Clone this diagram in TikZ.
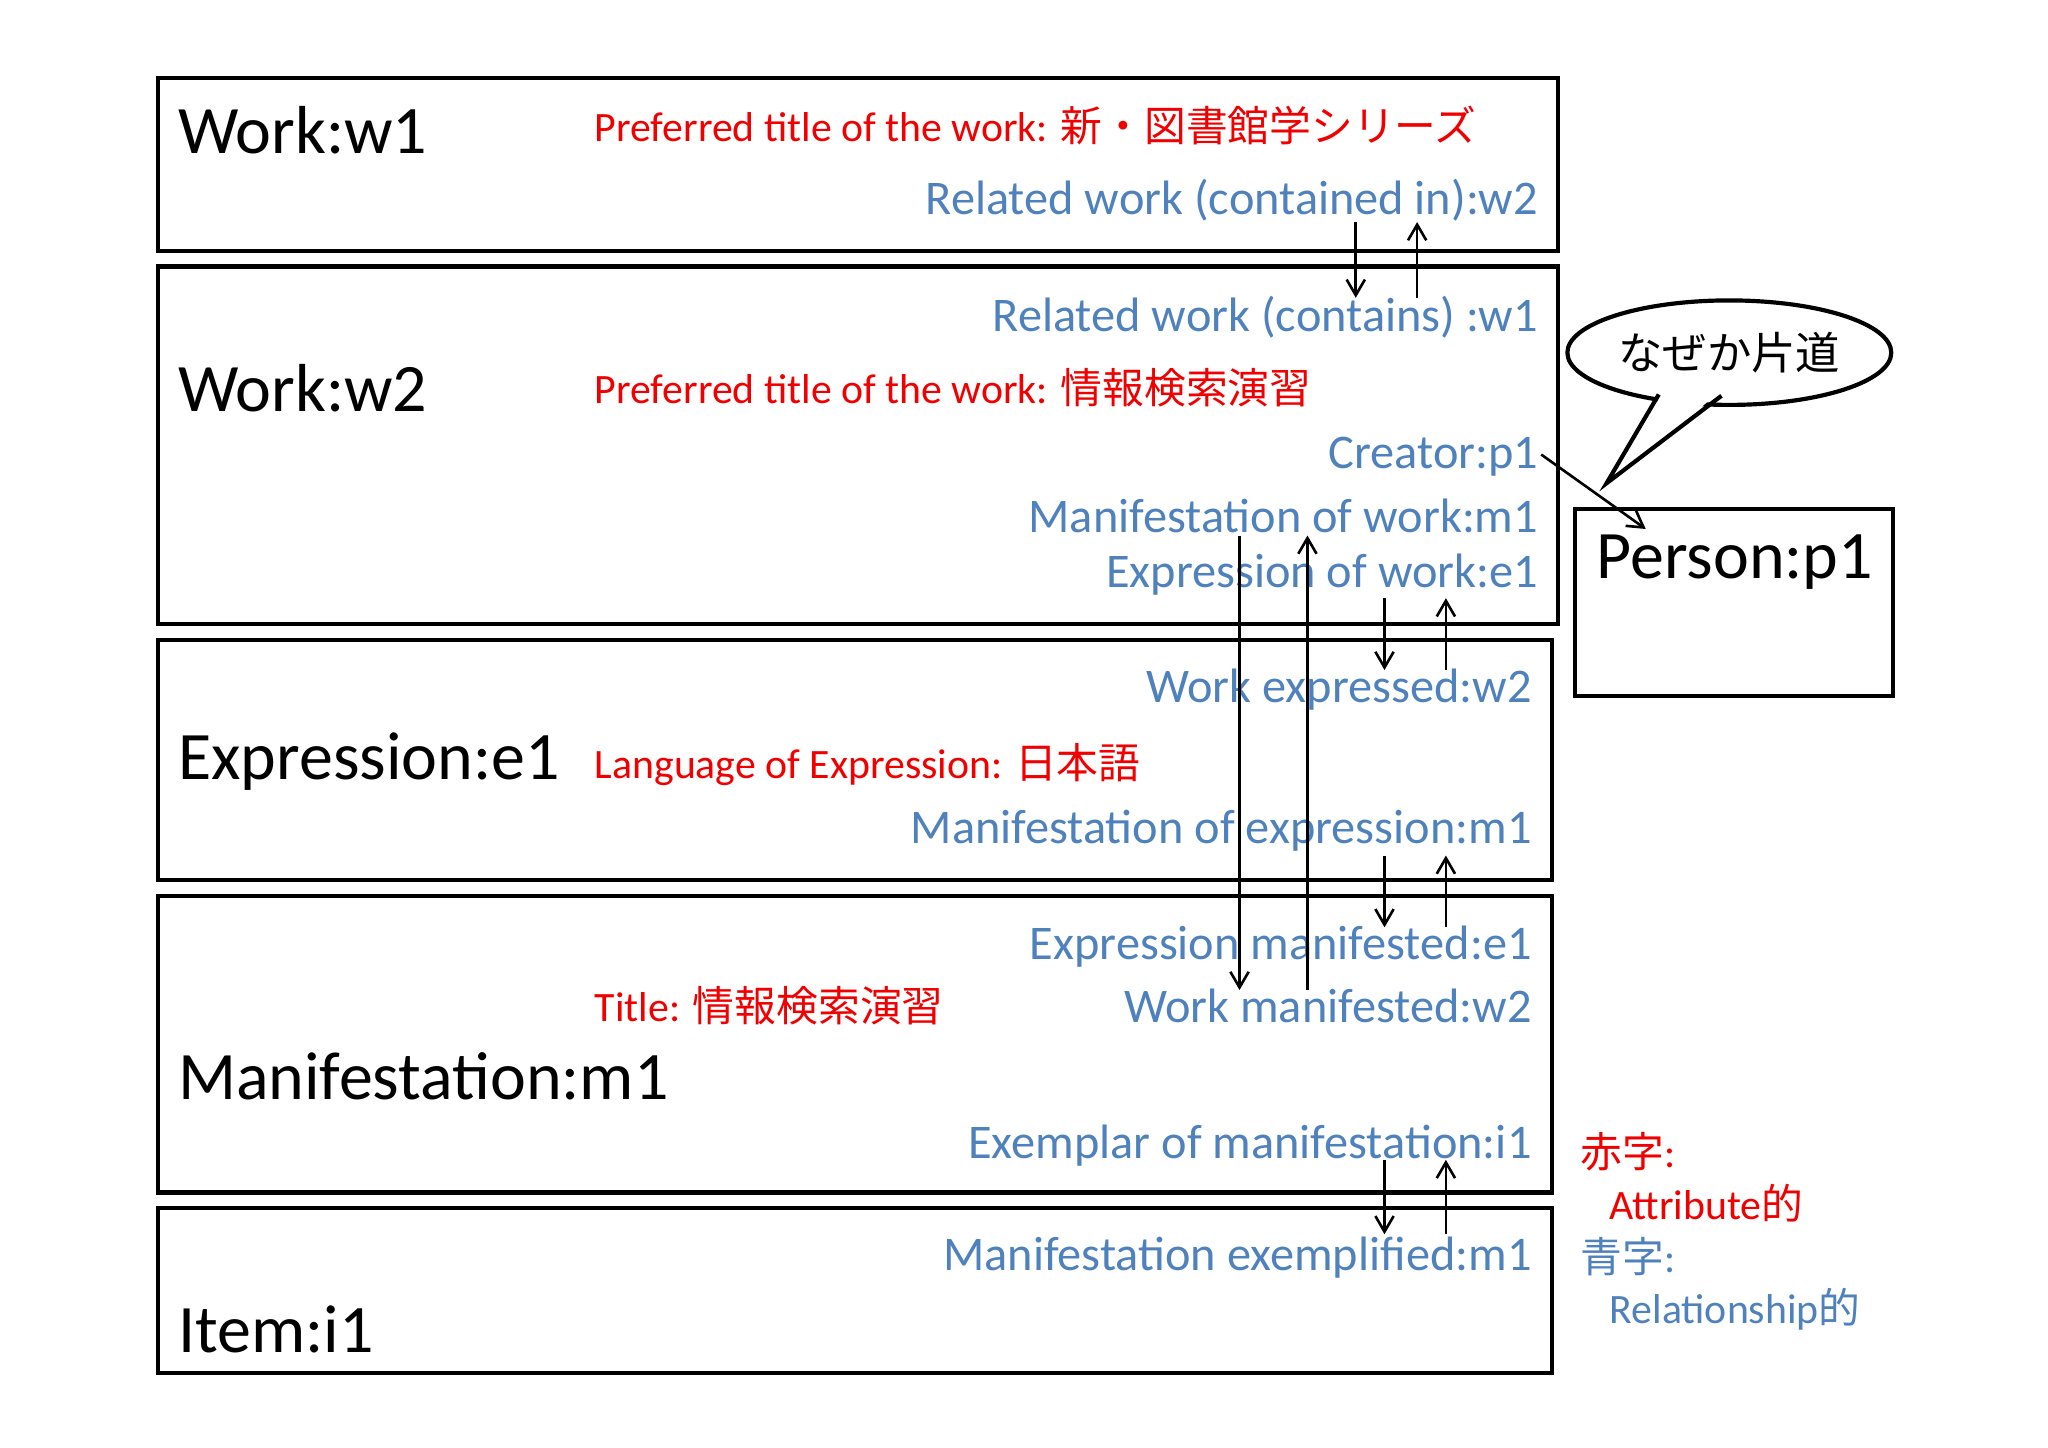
\documentclass[tikz,border=0pt]{standalone}
\usepackage{fontspec}
\setmainfont{Carlito}
\newfontfamily\cjk{Noto Sans CJK JP}
\usetikzlibrary{arrows.meta,shapes.geometric}
\definecolor{bl}{RGB}{79,129,189}
\definecolor{rd}{RGB}{240,0,0}
\begin{document}
\begin{tikzpicture}[x=0.5pt,y=-0.5pt,
  box/.style={draw,line width=1.6pt},
  big/.style={anchor=west,font=\fontsize{26}{29}\selectfont,inner sep=0},
  bt/.style={anchor=east,text=bl,font=\fontsize{18.5}{21}\selectfont,inner sep=0},
  rt/.style={anchor=west,text=rd,font=\fontsize{16}{19}\selectfont,inner sep=0},
  ar/.style={-{Straight Barb[length=6pt,width=7pt]},line width=1pt}]
\useasboundingbox (0,0) rectangle (1568,1108);
\draw[box] (121,60) rectangle (1193,192);
\draw[box] (121,204) rectangle (1193,478);
\draw[box] (121,490) rectangle (1188,674);
\draw[box] (121,686) rectangle (1188,913);
\draw[box] (121,925) rectangle (1188,1051);
\draw[box] (1206,390) rectangle (1449,533);
% callout
\node[ellipse,draw,line width=1.6pt,fill=white,minimum width=124pt,minimum height=40pt,inner sep=0,font=\cjk\fontsize{17}{20}\selectfont] (call) at (1324,270) {なぜか片道};
\fill[white] (1272,300) -- (1316,300) -- (1300,314) -- (1266,314) -- cycle;
\draw[line width=1.6pt] (1270,302) -- (1230,370) -- (1318,303);
% texts
\node[big] (tw1) at (136,100) {Work:w1};
\node[rt] at (455,96) {Preferred title of the work: {\cjk 新・図書館学シリーズ}};
\node[bt] at (1178,153) {Related work (contained in):w2};
\node[bt] at (1178,243) {Related work (contains) :w1};
\node[big] at (136,297) {Work:w2};
\node[rt] at (455,297) {Preferred title of the work: {\cjk 情報検索演習}};
\node[bt] (cr) at (1178,350) {Creator:p1};
\node[bt] at (1178,395) {Manifestation of work:m1};
\node[bt] at (1178,440) {Expression of work:e1};
\node[bt] at (1173,528) {Work expressed:w2};
\node[big] at (136,583) {Expression:e1};
\node[rt] at (455,585) {Language of Expression: {\cjk 日本語}};
\node[bt] at (1173,636) {Manifestation of expression:m1};
\node[bt] at (1173,725) {Expression manifested:e1};
\node[bt] at (1173,770) {Work manifested:w2};
\node[rt] at (455,770) {Title: {\cjk 情報検索演習}};
\node[big] at (136,824) {Manifestation:m1};
\node[bt] at (1173,877) {Exemplar of manifestation:i1};
\node[bt] at (1173,963) {Manifestation exemplified:m1};
\node[big] at (136,1018) {Item:i1};
\node[big] (pp) at (1222,430) {Person:p1};
\node[rt,text=rd] at (1210,882) {{\cjk 赤字}:};
\node[rt] at (1232,921) {Attribute{\cjk 的}};
\node[rt,text=bl] at (1210,962) {{\cjk 青字}:};
\node[rt,text=bl] at (1232,1002) {Relationship{\cjk 的}};
% arrows
\foreach \n/\x/\a/\b in {a/1038/170/228, b/1060/458/513, c/1060/655/710, d/1060/888/945, e/949/410/758}{
  \coordinate (\n1) at (\x,\a); \coordinate (\n2) at (\x,\b);
  \draw[ar] (\n1) -- (\n2);}
\foreach \n/\x/\a/\b in {f/1085/228/170, g/1107/513/458, h/1107/710/655, i/1107/945/888, j/1001/758/410}{
  \coordinate (\n1) at (\x,\a); \coordinate (\n2) at (\x,\b);
  \draw[ar] (\n1) -- (\n2);}
\coordinate (c1) at (1180,348); \coordinate (c2) at (1260,405);
\draw[ar] (c1) -- (c2);
\end{tikzpicture}
\end{document}
